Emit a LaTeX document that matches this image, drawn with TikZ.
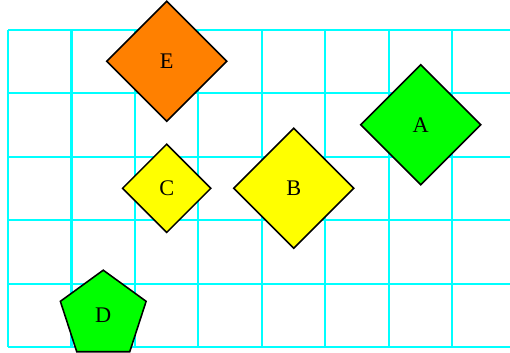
\documentclass[tikz,border=0pt]{standalone}
\usepackage{fontspec}
\setmainfont{Liberation Serif}
\usetikzlibrary{shapes.geometric}
\definecolor{gridcyan}{RGB}{0,255,255}
\definecolor{eorange}{RGB}{255,128,0}
\definecolor{bgreen}{RGB}{0,255,0}
\definecolor{byellow}{RGB}{255,255,0}
\tikzset{
  shapebase/.style={draw=black, line width=0.7pt, inner sep=0pt, font=\fontsize{10}{12}\selectfont, text=black},
  bigdiamond/.style={shapebase, diamond, shape aspect=1, minimum width=1.9cm, minimum height=1.9cm},
  smalldiamond/.style={shapebase, diamond, shape aspect=1, minimum width=1.4cm, minimum height=1.4cm},
  pentagon/.style={shapebase, regular polygon, regular polygon sides=5, minimum size=1.42cm},
  gridlines/.style={draw=gridcyan, line width=0.9pt}
}
\begin{document}
\begin{tikzpicture}
\useasboundingbox (-0.126,-0.094) rectangle (7.906,5.465);
\draw[gridlines, step=1cm] (0,0) grid (7.906,5);
\node[bigdiamond, fill=eorange] (E) at (2.5,4.5) {E};
\node[bigdiamond, fill=bgreen] (A) at (6.5,3.5) {A};
\node[bigdiamond, fill=byellow] (B) at (4.5,2.5) {B};
\node[smalldiamond, fill=byellow] (C) at (2.5,2.5) {C};
\node[pentagon, fill=bgreen] (D) at (1.5,0.5) {D};
\end{tikzpicture}
\end{document}
